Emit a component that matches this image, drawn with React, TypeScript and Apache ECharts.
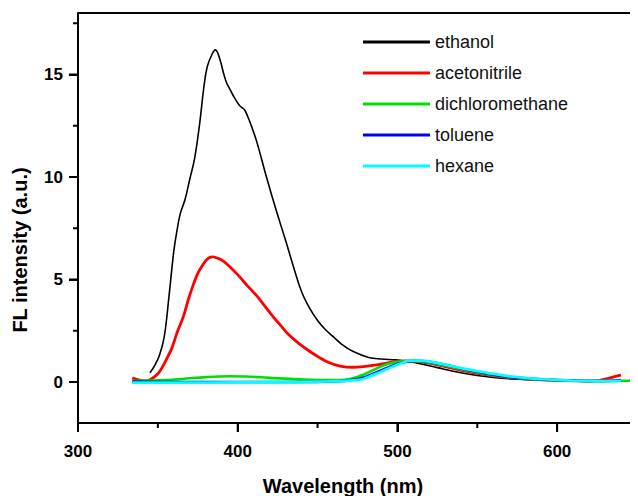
import React, { useEffect, useRef } from "react";
import * as echarts from "echarts";

const seriesNames = ["ethanol", "acetonitrile", "dichloromethane", "toluene", "hexane"];
const seriesColors = ["#000000", "#ff0000", "#00e000", "#0000ff", "#00ffff"];
const seriesWidths = [1.6, 2.8, 2.6, 2.6, 2.8];

const ethanolWl = [345, 348, 351, 354, 357, 360, 362, 364, 367, 370, 373, 376, 379, 381, 384, 386, 389, 391, 393, 395, 397, 401, 404, 406, 409, 412, 418, 424, 430, 435, 440, 445, 450, 455, 460, 465, 472, 482, 490, 499, 507, 515, 525, 535, 545, 555, 565, 575, 585, 595, 605, 615, 625, 635, 640];
const ethanolFl = [0.45, 0.8, 1.3, 2.2, 4.2, 6.4, 7.4, 8.2, 8.9, 9.9, 10.9, 12.5, 14.5, 15.4, 16.0, 16.2, 15.7, 15.1, 14.6, 14.3, 14.0, 13.5, 13.3, 13.0, 12.4, 11.7, 10.0, 8.4, 6.9, 5.6, 4.4, 3.6, 3.0, 2.55, 2.2, 1.85, 1.5, 1.2, 1.12, 1.08, 1.0, 0.88, 0.7, 0.52, 0.38, 0.27, 0.19, 0.14, 0.1, 0.08, 0.06, 0.05, 0.04, 0.04, 0.05];

const acetonitrileWl = [334, 338, 342, 346, 350, 353, 356, 359, 362, 366, 369, 372, 375, 378, 381, 384, 387, 391, 396, 401, 406, 412, 417, 422, 427, 432, 438, 445, 451, 457, 464, 472, 480, 487, 494, 500, 505, 510, 520, 530, 540, 550, 560, 570, 580, 590, 600, 610, 620, 626, 632, 638, 640];
const acetonitrileFl = [0.2, 0.1, 0.05, 0.15, 0.4, 0.75, 1.2, 1.7, 2.4, 3.2, 4.0, 4.7, 5.3, 5.7, 6.0, 6.1, 6.05, 5.9, 5.55, 5.15, 4.7, 4.2, 3.7, 3.2, 2.75, 2.3, 1.9, 1.5, 1.2, 0.95, 0.78, 0.72, 0.76, 0.83, 0.93, 1.0, 1.03, 1.02, 0.92, 0.75, 0.57, 0.42, 0.3, 0.21, 0.15, 0.11, 0.08, 0.06, 0.05, 0.07, 0.18, 0.3, 0.33];

const dichloromethaneWl = [334, 350, 365, 380, 395, 405, 420, 435, 450, 460, 470, 480, 489, 495, 502, 510, 520, 530, 540, 550, 560, 570, 580, 590, 600, 610, 620, 630, 640, 650];
const dichloromethaneFl = [0.05, 0.08, 0.15, 0.24, 0.28, 0.27, 0.2, 0.14, 0.1, 0.09, 0.15, 0.4, 0.74, 0.9, 1.0, 1.03, 0.95, 0.8, 0.62, 0.46, 0.33, 0.23, 0.16, 0.12, 0.09, 0.07, 0.05, 0.05, 0.06, 0.06];

const tolueneWl = [334, 360, 400, 440, 460, 470, 480, 490, 500, 505, 512, 520, 530, 540, 550, 560, 570, 580, 590, 600, 610, 620, 630, 640];
const tolueneFl = [0.02, 0.0, 0.0, 0.0, 0.03, 0.08, 0.25, 0.58, 0.88, 0.98, 1.04, 0.98, 0.84, 0.66, 0.5, 0.36, 0.25, 0.18, 0.13, 0.1, 0.07, 0.05, 0.05, 0.1];

const hexaneWl = [334, 360, 400, 440, 460, 470, 476, 485, 495, 502, 507, 512, 520, 534, 545, 556, 568, 580, 590, 600, 610, 620, 630, 640];
const hexaneFl = [-0.03, -0.03, -0.02, 0.0, 0.03, 0.07, 0.1, 0.35, 0.68, 0.9, 1.03, 1.05, 1.0, 0.78, 0.6, 0.45, 0.3, 0.2, 0.14, 0.1, 0.07, 0.05, 0.04, 0.05];

// axes
const xMin = 300, xMax = 650;
const yMin = -2, yMax = 18;
const xMajorTicks = [300, 400, 500, 600];
const xMinorTicks = [350, 450, 550, 650];
const yMajorTicks = [0, 5, 10, 15];
const yMinorTicks = [2.5, 7.5, 12.5, 17.5];

const xTitle = "Wavelength (nm)";
const yTitle = "FL intensity (a.u.)";

const allWl = [ethanolWl, acetonitrileWl, dichloromethaneWl, tolueneWl, hexaneWl];
const allFl = [ethanolFl, acetonitrileFl, dichloromethaneFl, tolueneFl, hexaneFl];

const FONT = "'Liberation Sans', Arial, Helvetica, sans-serif";

export default function App() {
  const ref = useRef<HTMLDivElement>(null);
  useEffect(() => {
    if (!ref.current) return;
    const chart = echarts.init(ref.current, undefined, { renderer: "svg" });

    const xTickData = [...xMajorTicks.map((v) => [v, 9]), ...xMinorTicks.map((v) => [v, 5])];
    const yTickData = [...yMajorTicks.map((v) => [v, 9]), ...yMinorTicks.map((v) => [v, 5])];
    const labelStyle = { fontFamily: FONT, fontWeight: "bold", fontSize: 17, fill: "#000" };

    // the chart div sits in normal flow at the body's 8px margin
    const option: any = {
      animation: false,
      grid: { left: 70, right: 1, top: 5, bottom: 73, show: true, borderColor: "#666", borderWidth: 1 },
      legend: {
        orient: "vertical",
        left: 355,
        top: 25,
        padding: 0,
        itemWidth: 67,
        itemHeight: 3,
        itemGap: 13,
        icon: "rect",
        textStyle: { fontFamily: FONT, fontSize: 18, color: "#111", lineHeight: 18 },
        data: seriesNames,
      },
      xAxis: {
        type: "value",
        min: xMin, max: xMax, interval: 100,
        axisLine: { show: true, onZero: false, lineStyle: { color: "#000", width: 2 } },
        axisTick: { show: true, inside: false, length: 9, lineStyle: { color: "#000", width: 2 } },
        axisLabel: { show: false },
        splitLine: { show: false },
      },
      yAxis: {
        type: "value",
        min: yMin, max: yMax,
        axisLine: { show: true, onZero: false, lineStyle: { color: "#000", width: 2 } },
        axisTick: { show: true, inside: false, customValues: yMajorTicks, length: 9, lineStyle: { color: "#000", width: 2 } },
        axisLabel: { show: false },
        splitLine: { show: false },
      },
      graphic: [
        {
          type: "text",
          x: 335,
          y: 478,
          style: { text: xTitle, fontFamily: FONT, fontWeight: "bold", fontSize: 20, fill: "#000", textAlign: "center", textVerticalAlign: "middle" },
        },
        {
          type: "text",
          x: 12,
          y: 242,
          rotation: Math.PI / 2,
          style: { text: yTitle, fontFamily: FONT, fontWeight: "bold", fontSize: 20, fill: "#000", textAlign: "center", textVerticalAlign: "middle" },
        },
      ],
      series: [
        ...seriesNames.map((name, i) => ({
          name,
          type: "line",
          symbol: "none",
          smooth: 0.4,
          color: seriesColors[i],
          lineStyle: { color: seriesColors[i], width: seriesWidths[i] },
          data: allWl[i].map((w, j) => [w, allFl[i][j]]),
          z: 2 + i,
        })),
        {
          type: "custom",
          clip: false,
          z: 10,
          data: [[xMin, yMax]],
          renderItem: (_p: any, api: any) => {
            const a = api.coord([xMin, yMax]);
            const b = api.coord([xMax, yMax]);
            return { type: "rect", shape: { x: a[0], y: a[1] - 1, width: b[0] - a[0], height: 2 }, style: { fill: "#000" } };
          },
        },
        {
          type: "custom",
          clip: false,
          z: 10,
          data: xTickData,
          renderItem: (_p: any, api: any) => {
            const v = api.value(0);
            const len = api.value(1);
            const p = api.coord([v, yMin]);
            const children: any[] = [
              { type: "rect", shape: { x: p[0] - 1, y: p[1], width: 2, height: len }, style: { fill: "#000" } },
            ];
            if (len > 6) {
              children.push({
                type: "text",
                x: p[0],
                y: p[1] + 28,
                style: { ...labelStyle, text: String(v), textAlign: "center", textVerticalAlign: "middle" },
              });
            }
            return { type: "group", children };
          },
        },
        {
          type: "custom",
          clip: false,
          z: 10,
          data: yTickData,
          renderItem: (_p: any, api: any) => {
            const v = api.value(0);
            const len = api.value(1);
            const p = api.coord([xMin, v]);
            const children: any[] = [
              { type: "rect", shape: { x: p[0] - len, y: p[1] - 1, width: len, height: 2 }, style: { fill: "#000" } },
            ];
            if (len > 6) {
              children.push({
                type: "text",
                x: p[0] - 15,
                y: p[1],
                style: { ...labelStyle, text: String(v), textAlign: "right", textVerticalAlign: "middle" },
              });
            }
            return { type: "group", children };
          },
        },
      ],
    };
    chart.setOption(option);
    return () => chart.dispose();
  }, []);
  return <div ref={ref} style={{ width: 630, height: 488 }} />;
}
